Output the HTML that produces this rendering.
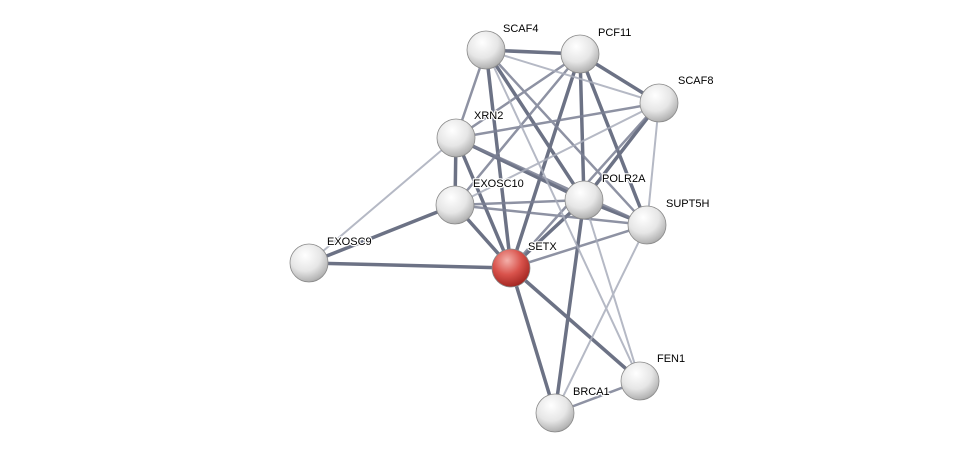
<!DOCTYPE html>
<html><head><meta charset="utf-8"><style>
html,body{margin:0;padding:0;background:#fff;}
svg{display:block;}
text{font-family:"Liberation Sans",sans-serif;font-size:11px;fill:#000;paint-order:stroke;stroke:#fff;stroke-width:2.5px;stroke-linejoin:round;}
</style></head><body>
<svg width="976" height="459" viewBox="0 0 976 459" xmlns="http://www.w3.org/2000/svg">
<defs>
<radialGradient id="g" cx="0.4" cy="0.3" r="0.75">
<stop offset="0" stop-color="#ffffff"/><stop offset="0.55" stop-color="#e6e6e6"/><stop offset="0.9" stop-color="#b5b5b5"/><stop offset="1" stop-color="#9a9a9a"/>
</radialGradient>
<radialGradient id="r" cx="0.4" cy="0.3" r="0.75">
<stop offset="0" stop-color="#f4b0aa"/><stop offset="0.5" stop-color="#d9534c"/><stop offset="0.9" stop-color="#a82a25"/><stop offset="1" stop-color="#8a1e1a"/>
</radialGradient>
</defs>
<g stroke-linecap="round">
<g stroke="#5d6378" stroke-width="3.5" opacity="0.9">
<line x1="511" y1="268" x2="309" y2="263"/>
<line x1="511" y1="268" x2="455" y2="205"/>
<line x1="511" y1="268" x2="456" y2="138"/>
<line x1="511" y1="268" x2="486" y2="50"/>
<line x1="511" y1="268" x2="580" y2="54"/>
<line x1="511" y1="268" x2="584" y2="200"/>
<line x1="511" y1="268" x2="555" y2="413"/>
<line x1="511" y1="268" x2="640" y2="381"/>
<line x1="309" y1="263" x2="455" y2="205"/>
<line x1="456" y1="138" x2="455" y2="205"/>
<line x1="456" y1="138" x2="584" y2="200"/>
<line x1="486" y1="50" x2="580" y2="54"/>
<line x1="486" y1="50" x2="584" y2="200"/>
<line x1="580" y1="54" x2="659" y2="103"/>
<line x1="580" y1="54" x2="584" y2="200"/>
<line x1="580" y1="54" x2="647" y2="225"/>
<line x1="659" y1="103" x2="584" y2="200"/>
<line x1="584" y1="200" x2="647" y2="225"/>
<line x1="584" y1="200" x2="555" y2="413"/>
</g>
<g stroke="#7b8094" stroke-width="2.5" opacity="0.85">
<line x1="511" y1="268" x2="647" y2="225"/>
<line x1="511" y1="268" x2="659" y2="103"/>
<line x1="456" y1="138" x2="486" y2="50"/>
<line x1="456" y1="138" x2="580" y2="54"/>
<line x1="456" y1="138" x2="659" y2="103"/>
<line x1="456" y1="138" x2="647" y2="225"/>
<line x1="455" y1="205" x2="584" y2="200"/>
<line x1="455" y1="205" x2="580" y2="54"/>
<line x1="455" y1="205" x2="647" y2="225"/>
<line x1="486" y1="50" x2="647" y2="225"/>
<line x1="555" y1="413" x2="640" y2="381"/>
</g>
<g stroke="#a9adbb" stroke-width="2" opacity="0.85">
<line x1="309" y1="263" x2="456" y2="138"/>
<line x1="455" y1="205" x2="659" y2="103"/>
<line x1="486" y1="50" x2="659" y2="103"/>
<line x1="486" y1="50" x2="640" y2="381"/>
<line x1="659" y1="103" x2="647" y2="225"/>
<line x1="584" y1="200" x2="640" y2="381"/>
<line x1="647" y1="225" x2="555" y2="413"/>
</g>
</g>
<g stroke="#8a8a8a" stroke-width="0.8">
<circle cx="486" cy="50" r="19" fill="url(#g)"/>
<circle cx="580" cy="54" r="19" fill="url(#g)"/>
<circle cx="659" cy="103" r="19" fill="url(#g)"/>
<circle cx="456" cy="138" r="19" fill="url(#g)"/>
<circle cx="455" cy="205" r="19" fill="url(#g)"/>
<circle cx="584" cy="200" r="19" fill="url(#g)"/>
<circle cx="647" cy="225" r="19" fill="url(#g)"/>
<circle cx="309" cy="263" r="19" fill="url(#g)"/>
<circle cx="511" cy="268" r="19" fill="url(#r)"/>
<circle cx="640" cy="381" r="19" fill="url(#g)"/>
<circle cx="555" cy="413" r="19" fill="url(#g)"/>
</g>
<text x="503" y="32">SCAF4</text>
<text x="598" y="36">PCF11</text>
<text x="678" y="84">SCAF8</text>
<text x="474" y="119">XRN2</text>
<text x="473" y="187">EXOSC10</text>
<text x="602" y="182">POLR2A</text>
<text x="666" y="207">SUPT5H</text>
<text x="327" y="245">EXOSC9</text>
<text x="528" y="250">SETX</text>
<text x="657" y="362">FEN1</text>
<text x="573" y="395">BRCA1</text>
</svg>
</body></html>
